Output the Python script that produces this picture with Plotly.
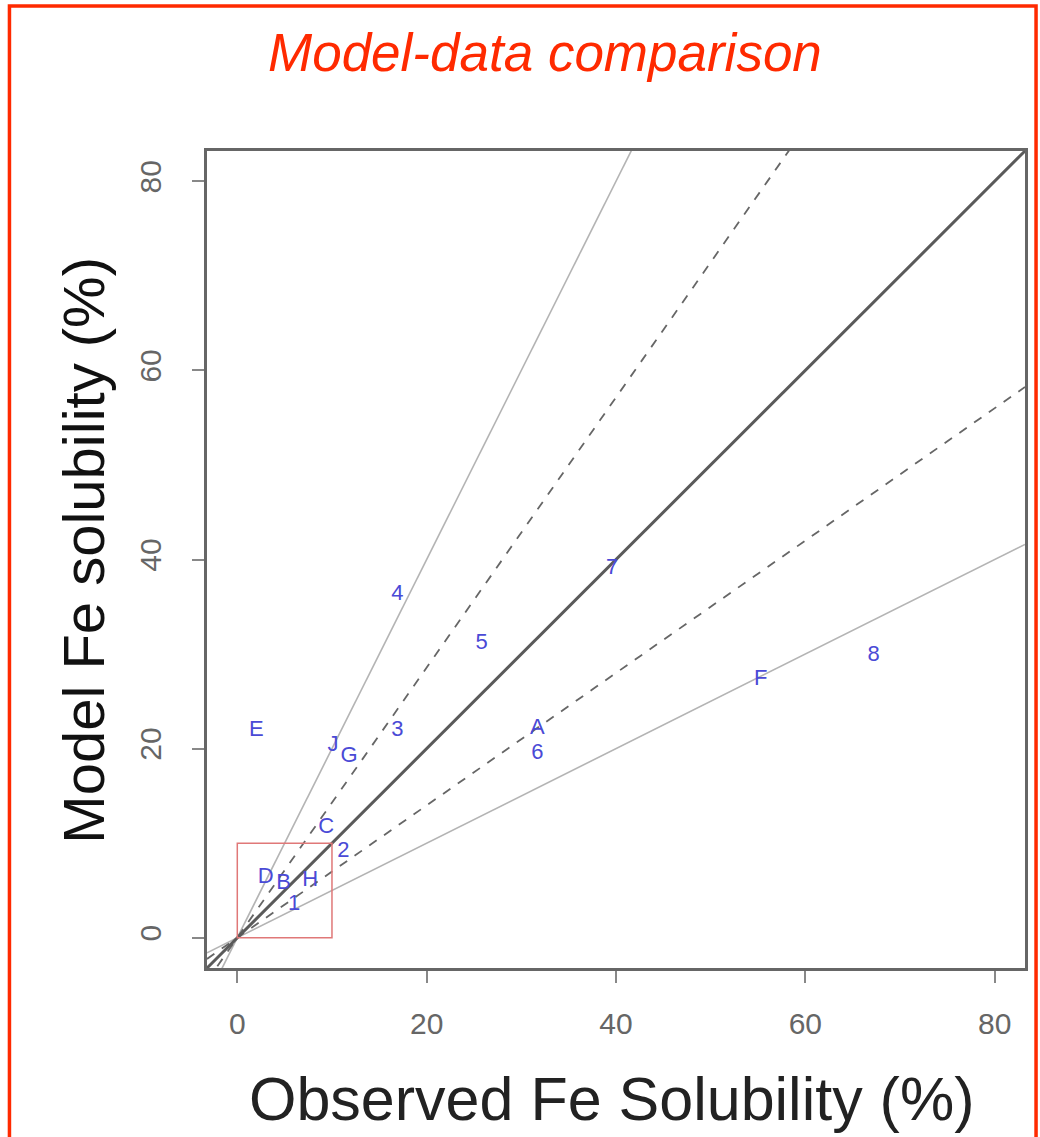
import plotly.graph_objects as go
import numpy as np

# Data: observed vs model Fe solubility (%) with site labels
labels = ["4", "7", "5", "8", "F", "E", "3", "J", "G", "A", "6", "C", "2", "D", "B", "H", "1"]
observed = [16.9, 39.6, 25.8, 67.2, 55.3, 2.0, 16.9, 10.1, 11.8, 31.7, 31.7, 9.4, 11.2, 3.0, 4.9, 7.7, 6.0]
model = [36.3, 39.0, 31.1, 29.8, 27.3, 21.9, 21.9, 20.3, 19.2, 22.1, 19.5, 11.7, 9.1, 6.4, 5.7, 6.1, 3.5]

# Reference lines: slope factors
slopes_solid_light = [2.0, 0.5]
slopes_dashed = [1 / 0.7, 0.7]
slope_one = 1.0

ticks = [0, 20, 40, 60, 80]
axis_range = [-3.2, 83.2]

FONT = "Liberation Sans, Arial, sans-serif"

fig = go.Figure()
xs = np.array(axis_range)

for s in slopes_solid_light:
    fig.add_trace(go.Scatter(x=xs, y=xs * s, mode="lines",
                             line=dict(color="#b4b4b4", width=1.6), hoverinfo="skip"))
for s in slopes_dashed:
    fig.add_trace(go.Scatter(x=xs, y=xs * s, mode="lines",
                             line=dict(color="#666666", width=1.8, dash="dash"), hoverinfo="skip"))
fig.add_trace(go.Scatter(x=xs, y=xs * slope_one, mode="lines",
                         line=dict(color="#5a5a5a", width=3), hoverinfo="skip"))

fig.add_trace(go.Scatter(x=observed, y=model, mode="text", text=labels,
                         textposition="middle center",
                         textfont=dict(family=FONT, size=22, color="#4a4ad6")))

# plot area: 818 x 817 px, at figure x=207..1025, y=151..968
shapes = [
    # zoom box
    dict(type="rect", xref="x", yref="y", x0=0, x1=10, y0=0, y1=10,
         line=dict(color="#e07878", width=1.5)),
    # outer red border
    dict(type="rect", xref="paper", yref="paper", x0=-0.2415, x1=1.0135, y0=-0.25, y1=1.1775,
         line=dict(color="#ff2a00", width=3.5)),
]

annotations = [
    dict(text="<i>Model-data comparison</i>", xref="paper", yref="paper",
         x=0.413, y=1.121, xanchor="center", yanchor="middle", showarrow=False,
         font=dict(family=FONT, size=53, color="#ff2a00")),
    dict(text="Observed Fe Solubility (%)", xref="paper", yref="paper",
         x=0.494, y=-0.16, xanchor="center", yanchor="middle", showarrow=False,
         font=dict(family=FONT, size=61, color="#222222")),
    dict(text="Model Fe solubility (%)", xref="paper", yref="paper", textangle=-90,
         x=-0.152, y=0.5116, xanchor="center", yanchor="middle", showarrow=False,
         font=dict(family=FONT, size=58, color="#111111")),
]

fig.update_layout(
    width=1040, height=1137,
    margin=dict(l=207, r=15, t=151, b=169),
    paper_bgcolor="white", plot_bgcolor="white",
    showlegend=False,
    shapes=shapes,
    annotations=annotations,
    xaxis=dict(range=axis_range, tickvals=ticks, ticks="outside", ticklen=12, tickwidth=1.5,
               tickcolor="#888", showgrid=False, zeroline=False, showline=True, mirror=True,
               linecolor="#666", linewidth=2.5, ticklabelstandoff=15,
               tickfont=dict(family=FONT, size=30, color="#666")),
    yaxis=dict(range=axis_range, tickvals=ticks, ticks="outside", ticklen=12, tickwidth=1.5,
               tickcolor="#888", showgrid=False, zeroline=False, showline=True, mirror=True,
               linecolor="#666", linewidth=2.5, tickangle=-90, ticklabelstandoff=19,
               tickfont=dict(family=FONT, size=30, color="#666")),
)

fig.write_html("out.html", config={"displayModeBar": False},
               post_script="document.body.style.margin='0px';document.body.style.overflow='hidden';")
